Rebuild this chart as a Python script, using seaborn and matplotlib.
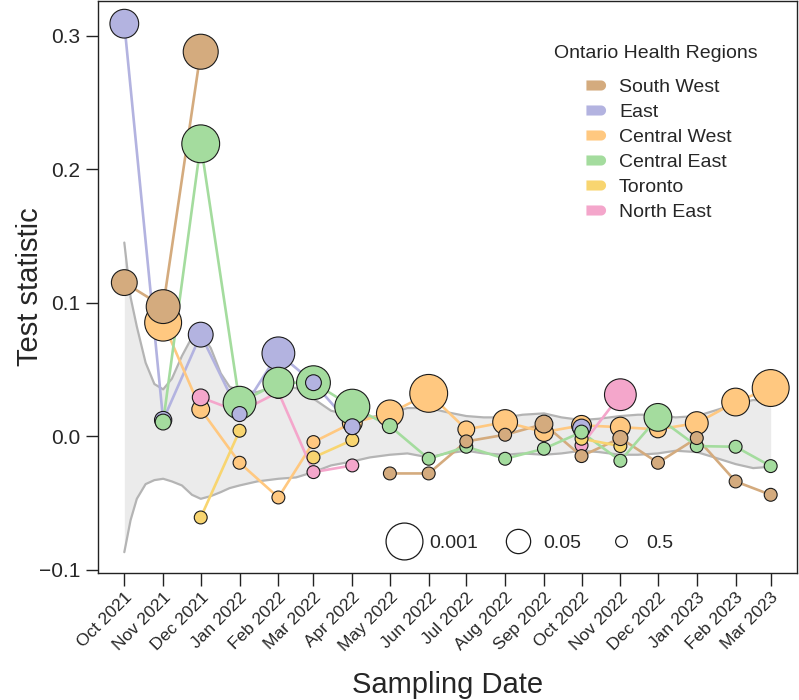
import numpy as np
import pandas as pd
import matplotlib
matplotlib.use("Agg")
import matplotlib.pyplot as plt
import matplotlib.dates as mdates
from matplotlib.lines import Line2D
from matplotlib.path import Path
import seaborn as sns

nan = np.nan

# ---------------------------------------------------------------- data
months = ["2021-10-01", "2021-11-01", "2021-12-01", "2022-01-01", "2022-02-01",
          "2022-03-01", "2022-04-01", "2022-05-01", "2022-06-01", "2022-07-01",
          "2022-08-01", "2022-09-01", "2022-10-01", "2022-11-01", "2022-12-01",
          "2023-01-01", "2023-02-01", "2023-03-01"]

regions = ["South West", "East", "Central West", "Central East", "Toronto", "North East"]
colors = ["#D4AB7E", "#B3B3E0", "#FFC880", "#A4DC9E", "#F8D570", "#F4A6CB"]
# drawing layer of each region (ties are drawn big-circle-first)
draw_rank = {"Central West": 0, "North East": 1, "Toronto": 2,
             "Central East": 3, "East": 3, "South West": 4}

# test statistic per month (nan = no sample)
south_west = [0.115, 0.097, 0.288, nan, nan, nan, nan, -0.028, -0.028, -0.004,
              0.001, 0.009, -0.015, -0.0015, -0.020, -0.0015, -0.034, -0.044]
east = [0.309, 0.012, 0.076, 0.0165, 0.062, 0.040, 0.007, nan, nan, nan,
        nan, nan, 0.006, nan, nan, nan, nan, nan]
central_west = [nan, 0.085, 0.020, -0.020, -0.046, -0.0045, 0.010, 0.017, 0.032, 0.005,
                0.0105, 0.003, 0.008, 0.0067, 0.005, 0.0097, 0.0255, 0.036]
central_east = [nan, 0.0105, 0.219, 0.025, 0.040, 0.040, 0.022, 0.0075, -0.017, -0.008,
                -0.017, -0.0095, 0.003, -0.0185, 0.014, -0.0075, -0.008, -0.0225]
toronto = [nan, nan, -0.061, 0.004, nan, -0.016, -0.003, nan, nan, nan,
           nan, nan, -0.002, -0.0075, nan, nan, nan, nan]
north_east = [nan, nan, 0.029, 0.018, 0.033, -0.027, -0.022, nan, nan, nan,
              nan, nan, -0.007, 0.031, nan, nan, nan, nan]

# p-values (point size)
south_west_p = [0.034, 0.003, 0.002, nan, nan, nan, nan, 0.43, 0.43, 0.43,
                0.43, 0.2, 0.43, 0.32, 0.43, 0.43, 0.43, 0.43]
east_p = [0.015, 0.22, 0.044, 0.32, 0.0043, 0.28, 0.28, nan, nan, nan,
          nan, nan, 0.2, nan, nan, nan, nan, nan]
central_west_p = [nan, 0.001, 0.2, 0.43, 0.43, 0.43, 0.135, 0.026, 0.0007, 0.24,
                  0.044, 0.17, 0.135, 0.135, 0.24, 0.071, 0.02, 0.001]
central_east_p = [nan, 0.28, 0.0007, 0.0043, 0.008, 0.003, 0.002, 0.32, 0.43, 0.43,
                  0.43, 0.43, 0.38, 0.43, 0.02, 0.43, 0.43, 0.43]
toronto_p = [nan, nan, 0.43, 0.43, nan, 0.43, 0.43, nan, nan, nan,
             nan, nan, 0.43, 0.43, nan, nan, nan, nan]
north_east_p = [nan, nan, 0.24, 0.43, 0.43, 0.43, 0.43, nan, nan, nan,
                nan, nan, 0.43, 0.006, nan, nan, nan, nan]

# null envelope (grey band)
band_dates = ["2021-10-01", "2021-10-06", "2021-10-11", "2021-10-18", "2021-10-25",
              "2021-11-01", "2021-11-08", "2021-11-16", "2021-11-24", "2021-12-01",
              "2021-12-09", "2021-12-17", "2021-12-24", "2022-01-01", "2022-01-15",
              "2022-02-01", "2022-02-15", "2022-03-01", "2022-03-15", "2022-04-01",
              "2022-04-15", "2022-05-01", "2022-05-15", "2022-06-01", "2022-06-15",
              "2022-07-01", "2022-07-15", "2022-08-01", "2022-08-15", "2022-09-01",
              "2022-09-15", "2022-10-01", "2022-10-15", "2022-11-01", "2022-11-15",
              "2022-12-01", "2022-12-15", "2023-01-01", "2023-01-15", "2023-02-01",
              "2023-02-15", "2023-03-01"]
band_upper = [0.145, 0.104, 0.082, 0.055, 0.039, 0.035, 0.043, 0.060, 0.074, 0.077,
              0.066, 0.047, 0.037, 0.034, 0.033, 0.038, 0.036, 0.028, 0.019, 0.015,
              0.014, 0.017, 0.021, 0.021, 0.018, 0.015, 0.014, 0.014, 0.016, 0.017,
              0.014, 0.012, 0.013, 0.015, 0.016, 0.016, 0.014, 0.015, 0.019, 0.024,
              0.027, 0.026]
band_lower = [-0.087, -0.063, -0.047, -0.036, -0.033, -0.032, -0.034, -0.037, -0.044, -0.047,
              -0.045, -0.042, -0.039, -0.037, -0.034, -0.032, -0.031, -0.027, -0.022, -0.019,
              -0.016, -0.014, -0.013, -0.016, -0.013, -0.011, -0.013, -0.014, -0.013, -0.014,
              -0.013, -0.011, -0.012, -0.014, -0.014, -0.013, -0.011, -0.012, -0.016, -0.021,
              -0.024, -0.023]

legend_p = [0.001, 0.05, 0.5]
AREA_PER_LOGP = 235  # marker area (pt^2) per unit of -log10(p)

# ---------------------------------------------------------------- frames
rows = []
for name, vals, pv in zip(regions,
                          [south_west, east, central_west, central_east, toronto, north_east],
                          [south_west_p, east_p, central_west_p, central_east_p, toronto_p, north_east_p]):
    seg = 0
    for m, v, p in zip(months, vals, pv):
        if np.isnan(v):
            seg += 1
            continue
        rows.append({"date": pd.Timestamp(m), "value": v, "p": p,
                     "region": name, "seg": f"{name}-{seg}"})
df = pd.DataFrame(rows)
df["area"] = AREA_PER_LOGP * -np.log10(df["p"])

band = pd.DataFrame({"date": pd.to_datetime(band_dates), "upper": band_upper, "lower": band_lower})
pal = dict(zip(regions, colors))

# ---------------------------------------------------------------- plot
sns.set_theme(style="ticks")
plt.rcParams["font.family"] = ["Liberation Sans", "DejaVu Sans"]

fig = plt.figure(figsize=(7.99, 7.0), dpi=100)
ax = fig.add_axes([98 / 799, 127 / 700, 699 / 799, 572 / 700])

ax.fill_between(band["date"], band["lower"], band["upper"], color="#EBEBEB", lw=0, zorder=0)
for col in ["upper", "lower"]:
    sns.lineplot(data=band, x="date", y=col, color="#B4B4B4", linewidth=1.6, ax=ax, zorder=1)

sns.lineplot(data=df, x="date", y="value", hue="region", hue_order=regions, palette=pal,
             units="seg", estimator=None, sort=False, linewidth=1.9, legend=False,
             ax=ax, zorder=2)

# points drawn layer by layer (later layers on top)
pts = df.assign(rank=df["region"].map(draw_rank)).sort_values(["rank", "p"])
sns.scatterplot(data=pts, x="date", y="value", hue="region", hue_order=regions, palette=pal,
                size="area", sizes=(0, 1000), size_norm=(0, 1000),
                edgecolor="#1a1a1a", linewidth=0.8, alpha=1, legend=False, ax=ax, zorder=3)

ax.set_xlim(pd.Timestamp("2021-09-10"), pd.Timestamp("2023-03-22"))
ax.set_ylim(-0.1026, 0.326)
ax.set_yticks([-0.1, 0.0, 0.1, 0.2, 0.3])
ax.set_xticks(pd.to_datetime(months))
ax.xaxis.set_major_formatter(mdates.DateFormatter("%b %Y"))
ax.tick_params(axis="both", length=9, width=1, color="#222222", direction="out")
ax.tick_params(axis="y", labelsize=15, pad=4)
ax.tick_params(axis="x", labelsize=12.5, pad=3)
plt.setp(ax.get_xticklabels(), rotation=45, ha="right", rotation_mode="anchor")
for s in ax.spines.values():
    s.set_linewidth(1.0)
    s.set_color("#222222")

ax.set_xlabel("Sampling Date", fontsize=21, labelpad=12)
ax.set_ylabel("Test statistic", fontsize=21, labelpad=-4)

# region legend with D-shaped keys
theta = np.linspace(-np.pi / 2, np.pi / 2, 25)
verts = [(-1.0, -0.5), (0.45, -0.5)] + [(0.45 + 0.5 * np.cos(t), 0.5 * np.sin(t)) for t in theta] \
        + [(-1.0, 0.5), (-1.0, -0.5)]
dshape = Path(verts, closed=True)
reg_handles = [Line2D([], [], linestyle="none", marker=dshape, markersize=14.5,
                      markerfacecolor=c, markeredgewidth=0) for c in colors]
leg1 = ax.legend(reg_handles, regions, loc="upper left", bbox_to_anchor=(0.687, 0.879),
                 frameon=False, fontsize=14, handlelength=1.0, handletextpad=0.7,
                 labelspacing=0.38, borderaxespad=0)
ax.add_artist(leg1)
fig.text(656 / 799, 1 - 53 / 700, "Ontario Health Regions", ha="center", va="center", fontsize=14)

size_handles = [Line2D([], [], linestyle="none", marker="o", markersize=np.sqrt(AREA_PER_LOGP * -np.log10(p)),
                       markerfacecolor="white", markeredgecolor="#1a1a1a", markeredgewidth=0.9)
                for p in legend_p]
ax.legend(size_handles, [str(p) for p in legend_p], loc="center", ncol=3,
          bbox_to_anchor=(0.617, 0.052), frameon=False, fontsize=14,
          handlelength=2.0, handletextpad=0.3, columnspacing=1.05)

fig.savefig("out.png", dpi=100)
